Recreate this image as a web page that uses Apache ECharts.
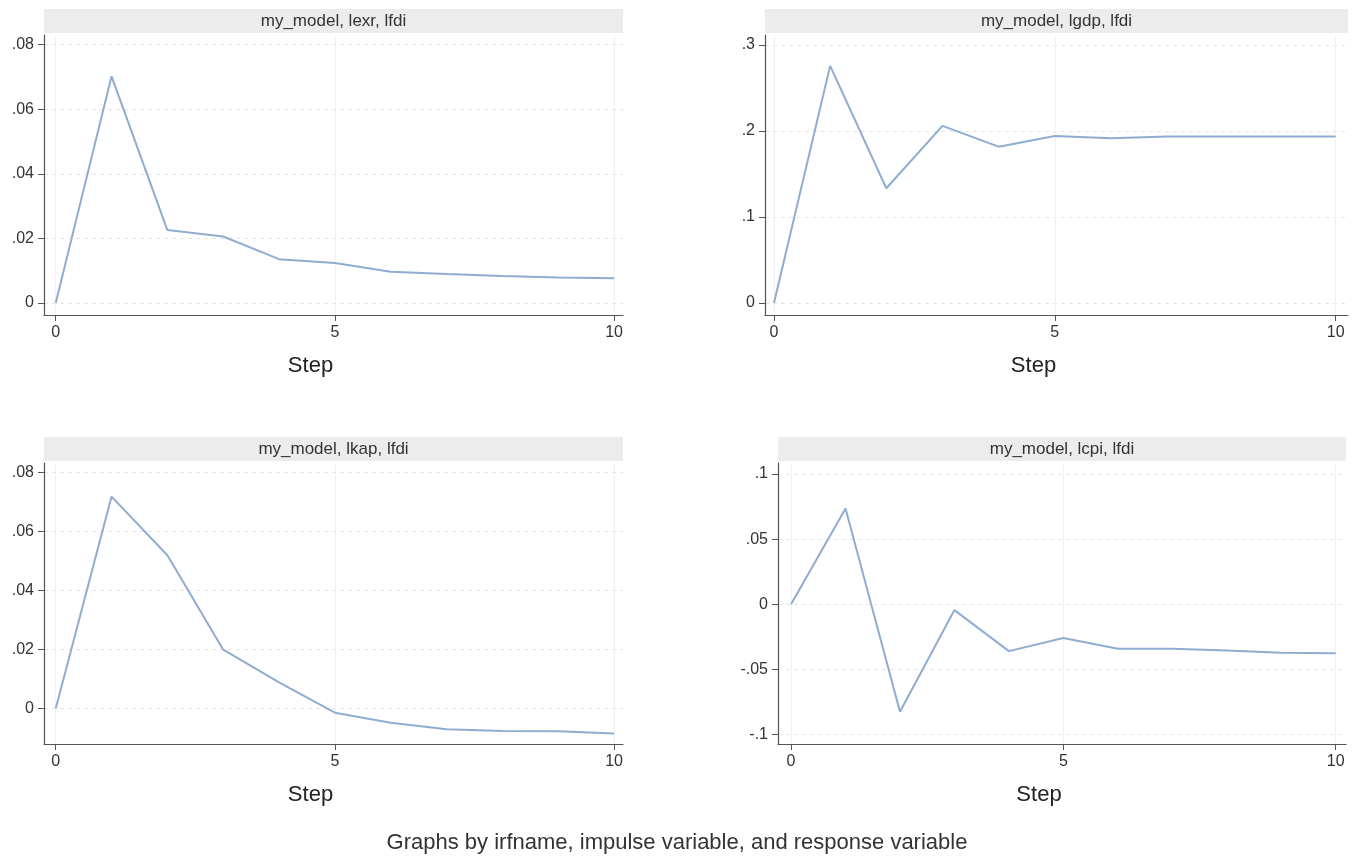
<!DOCTYPE html>
<html>
<head>
<meta charset="utf-8">
<script src="https://cdn.jsdelivr.net/npm/echarts@6/dist/echarts.min.js"></script>
<style>
html,body{margin:0;padding:0;background:#fff;}
#chart{width:1354px;height:857px;}
</style>
</head>
<body>
<div id="chart"></div>
<script>
// ---- data ----
const steps = [0,1,2,3,4,5,6,7,8,9,10];
const panelTitles = ['my_model, lexr, lfdi','my_model, lgdp, lfdi','my_model, lkap, lfdi','my_model, lcpi, lfdi'];
const lexr = [0, 0.0702, 0.0226, 0.0206, 0.0136, 0.0124, 0.0097, 0.0090, 0.0084, 0.0079, 0.0077];
const lgdp = [0, 0.2756, 0.1333, 0.2058, 0.1817, 0.1942, 0.1915, 0.1934, 0.1934, 0.1934, 0.1934];
const lkap = [0, 0.0719, 0.0520, 0.0200, 0.0089, -0.0014, -0.0048, -0.0070, -0.0076, -0.0077, -0.0084];
const lcpi = [0, 0.0736, -0.0824, -0.0044, -0.0359, -0.0258, -0.0341, -0.0341, -0.0354, -0.0372, -0.0375];
const xTicks = [0,5,10];
const yTicks1 = [0,0.02,0.04,0.06,0.08];
const yTicks2 = [0,0.1,0.2,0.3];
const yTicks3 = [0,0.02,0.04,0.06,0.08];
const yTicks4 = [-0.1,-0.05,0,0.05,0.1];
const xTitle = 'Step';
const note = 'Graphs by irfname, impulse variable, and response variable';

// ---- layout ----
const panels = [
  {series: lexr, yTicks: yTicks1, grid:{left:44, top:35, width:579, height:280}, xr:[-0.21,10.16], yr:[-0.0037,0.0830]},
  {series: lgdp, yTicks: yTicks2, grid:{left:765, top:35, width:583, height:280}, xr:[-0.16,10.22], yr:[-0.0140,0.3115]},
  {series: lkap, yTicks: yTicks3, grid:{left:44, top:463, width:579, height:281}, xr:[-0.21,10.16], yr:[-0.0120,0.0833]},
  {series: lcpi, yTicks: yTicks4, grid:{left:778, top:463, width:568, height:281}, xr:[-0.24,10.19], yr:[-0.1072,0.1085]}
];

function fmt(v){
  if (Math.abs(v) < 1e-12) return '0';
  let s = String(Math.round(v*1000)/1000);
  s = s.replace(/^0\./,'.').replace(/^-0\./,'-.');
  return s;
}

const FONT = '"Liberation Sans", Arial, Helvetica, sans-serif';
const axisCol = '#555';
const hGridCol = '#e4e4e4';
const vGridCol = '#f0f0f0';

const grids = [], xAxes = [], yAxes = [], series = [], graphics = [];
panels.forEach((p, i) => {
  grids.push(Object.assign({containLabel:false}, p.grid));
  xAxes.push({
    type:'value', gridIndex:i, min:p.xr[0], max:p.xr[1],
    name: xTitle, nameLocation:'middle', nameGap:40,
    nameTextStyle:{fontFamily:FONT, fontSize:22, color:'#222', padding:[0,46,0,0]},
    axisLine:{show:true, onZero:false, lineStyle:{color:axisCol, width:1.2}},
    axisTick:{show:true, length:6, customValues:xTicks, lineStyle:{color:axisCol}},
    axisLabel:{customValues:xTicks, fontFamily:FONT, fontSize:16, color:'#333', margin:10, formatter:v=>fmt(v)},
    splitLine:{show:true, customValues:xTicks, lineStyle:{color:vGridCol, width:1}}
  });
  yAxes.push({
    type:'value', gridIndex:i, min:p.yr[0], max:p.yr[1],
    axisLine:{show:true, onZero:false, lineStyle:{color:axisCol, width:1.2}},
    axisTick:{show:true, length:6, customValues:p.yTicks, lineStyle:{color:axisCol}},
    axisLabel:{customValues:p.yTicks, fontFamily:FONT, fontSize:16, color:'#333', margin:10, formatter:v=>fmt(v)},
    splitLine:{show:true, customValues:p.yTicks, lineStyle:{color:hGridCol, type:[4,4], width:1}}
  });
  series.push({
    type:'line', xAxisIndex:i, yAxisIndex:i,
    data: steps.map((s,k)=>[s, p.series[k]]),
    showSymbol:false, symbol:'none',
    lineStyle:{color:'#8eadd0', width:2},
    animation:false
  });
  graphics.push({
    type:'rect', x:p.grid.left, y:p.grid.top-26,
    shape:{width:p.grid.width, height:24},
    style:{fill:'#ececec'}, silent:true
  });
  graphics.push({
    type:'text', x:p.grid.left+p.grid.width/2, y:p.grid.top-14,
    style:{text:panelTitles[i], font:'17px '+FONT, fill:'#333', textAlign:'center', textVerticalAlign:'middle'},
    silent:true
  });
});
graphics.push({
  type:'text', x:677, y:843,
  style:{text:note, font:'22px '+FONT, fill:'#333', textAlign:'center', textVerticalAlign:'middle'}, silent:true
});

const chart = echarts.init(document.getElementById('chart'), null, {renderer:'canvas'});
chart.setOption({
  backgroundColor:'#fff',
  animation:false,
  grid: grids, xAxis: xAxes, yAxis: yAxes, series: series,
  graphic: graphics
});
</script>
</body>
</html>
